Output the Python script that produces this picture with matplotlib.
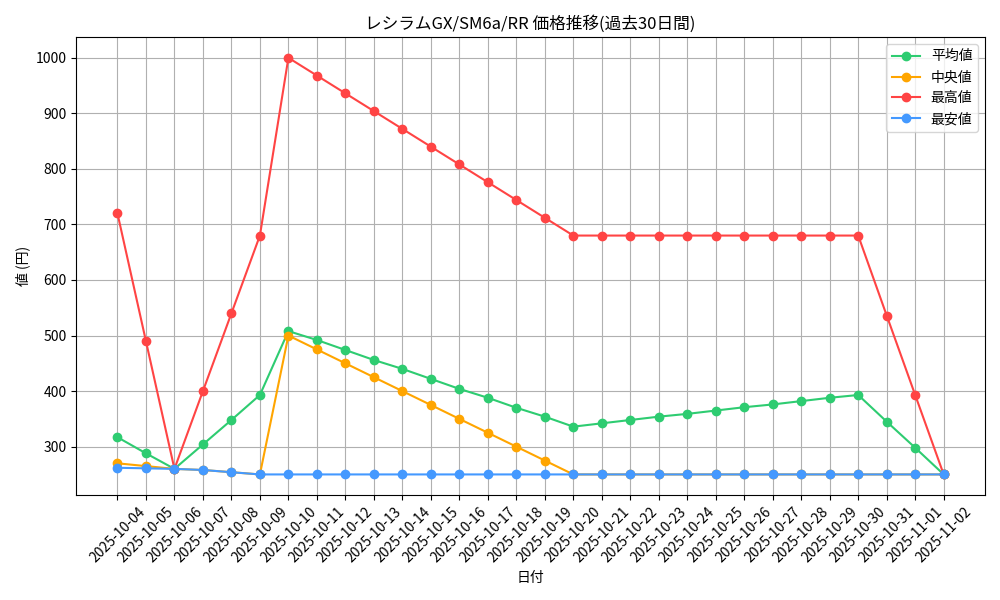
import matplotlib
matplotlib.use("Agg")
import matplotlib.pyplot as plt
import pandas as pd

plt.rcParams['font.family'] = ['Noto Sans CJK JP', 'DejaVu Sans']

dates = [d.strftime('%Y-%m-%d') for d in pd.date_range('2025-10-04', '2025-11-02')]
avg_vals = [317, 288, 260, 304, 348, 393, 508, 492, 474, 456, 440, 422, 404, 388, 370, 354,
            336, 342, 348, 354, 359, 365, 371, 376, 382, 388, 393, 345, 298, 250]
median_vals = [270, 265, 260, 258, 254, 250, 500, 475, 450, 425, 400, 375, 350, 325, 300, 275,
               250, 250, 250, 250, 250, 250, 250, 250, 250, 250, 250, 250, 250, 250]
max_vals = [720, 490, 260, 400, 540, 680, 1000, 968, 936, 904, 872, 840, 808, 776, 744, 712,
            680, 680, 680, 680, 680, 680, 680, 680, 680, 680, 680, 536, 393, 250]
min_vals = [262, 261, 260, 258, 254, 250, 250, 250, 250, 250, 250, 250, 250, 250, 250, 250,
            250, 250, 250, 250, 250, 250, 250, 250, 250, 250, 250, 250, 250, 250]

fig, ax = plt.subplots(figsize=(10, 6), dpi=100)
ax.plot(dates, avg_vals, marker='o', color='#2ecc71', label='平均値')
ax.plot(dates, median_vals, marker='o', color='#ffa500', label='中央値')
ax.plot(dates, max_vals, marker='o', color='#ff4444', label='最高値')
ax.plot(dates, min_vals, marker='o', color='#4499ff', label='最安値')

ax.set_title('レシラムGX/SM6a/RR 価格推移(過去30日間)')
ax.set_xlabel('日付')
ax.set_ylabel('値 (円)')
ax.grid(True)
ax.legend(loc='upper right')
plt.xticks(rotation=45)
plt.tight_layout()
plt.savefig('out.png')
